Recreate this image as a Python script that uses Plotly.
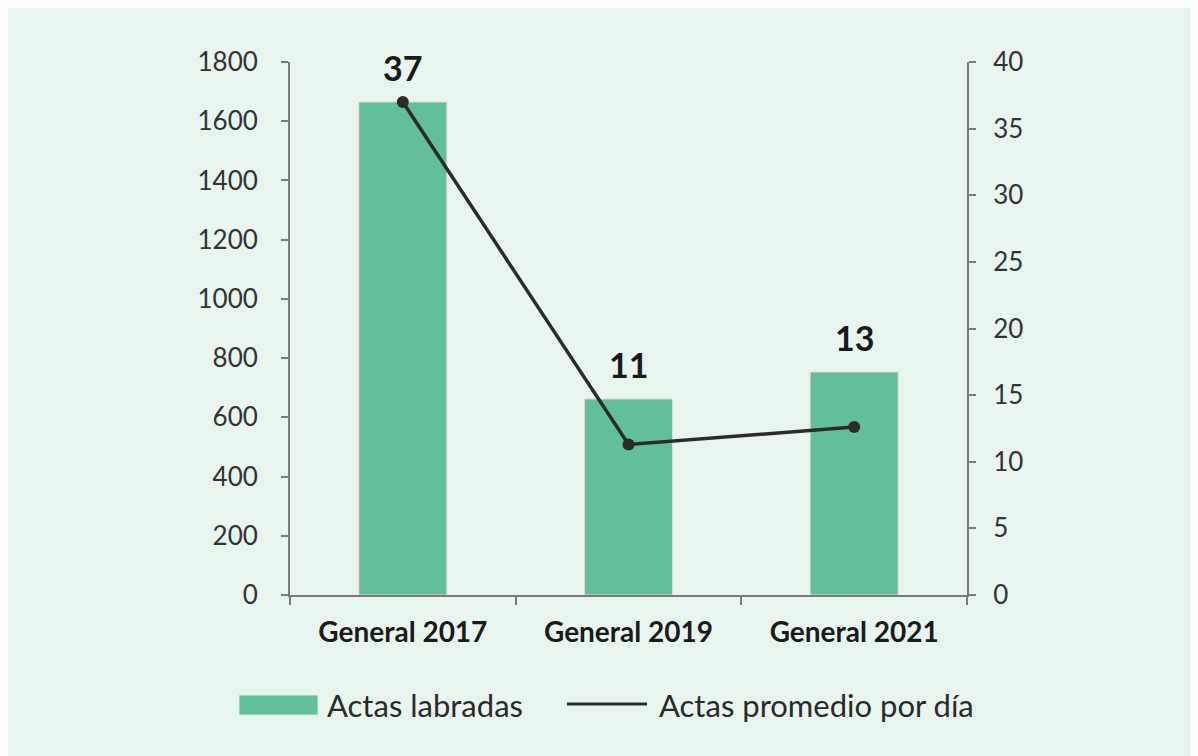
import plotly.graph_objects as go

categories = ["General 2017", "General 2019", "General 2021"]
actas_labradas = [1665, 662, 753]
actas_promedio = [37, 11.3, 12.6]
left_ticks = [0, 200, 400, 600, 800, 1000, 1200, 1400, 1600, 1800]
right_ticks = [0, 5, 10, 15, 20, 25, 30, 35, 40]
legend_labels = ["Actas labradas", "Actas promedio por día"]

BG = "#e8f5ee"
BAR = "#62bf9a"
LINE = "#2b2b2b"
AXIS = "#7a7a7a"
FONT = "Lato, 'Noto Sans', sans-serif"

W, H = 1188, 748
L, T = 282, 54
R = W - 959
B = H - 587
pw, ph = W - L - R, H - T - B


def px(X):
    return (X - 290) / pw


def py(Y):
    return (595 - Y) / ph


fig = go.Figure()
fig.add_trace(go.Bar(
    x=categories, y=actas_labradas, name=legend_labels[0],
    marker=dict(color=BAR, line=dict(color="#ead6d6", width=1)),
    hoverinfo="skip", showlegend=False,
))
fig.add_trace(go.Scatter(
    x=categories, y=actas_promedio, name=legend_labels[1],
    yaxis="y2", mode="lines+markers", showlegend=False,
    line=dict(color=LINE, width=3.5), marker=dict(color=LINE, size=12),
))

for c, v, p in zip(categories, actas_labradas, actas_promedio):
    fig.add_annotation(x=c, y=v, xref="x", yref="y", text=f"<b>{p:.0f}</b>",
                       showarrow=False, yanchor="bottom", yshift=12,
                       font=dict(family=FONT, size=34, color="#1a1a1a"))

# legend (manual)
fig.add_shape(type="rect", xref="paper", yref="paper", x0=px(239), x1=px(318),
              y0=py(715), y1=py(695), fillcolor=BAR, line=dict(color="#d8ece0", width=1))
fig.add_annotation(xref="paper", yref="paper", x=px(325), y=py(705), xanchor="left",
                   yanchor="middle", text=legend_labels[0], showarrow=False,
                   font=dict(family=FONT, size=31, color="#2a2a2a"))
fig.add_shape(type="line", xref="paper", yref="paper", x0=px(567), x1=px(647),
              y0=py(704), y1=py(704), line=dict(color=LINE, width=3))
fig.add_annotation(xref="paper", yref="paper", x=px(657), y=py(705), xanchor="left",
                   yanchor="middle", text=legend_labels[1], showarrow=False,
                   font=dict(family=FONT, size=31, color="#2a2a2a"))

fig.update_layout(
    width=W, height=H,
    margin=dict(l=L, r=R, t=T, b=B, pad=0),
    paper_bgcolor=BG, plot_bgcolor="rgba(0,0,0,0)",
    font=dict(family=FONT, color="#333333"),
    bargap=0.61,
    showlegend=False,
    xaxis=dict(showline=True, linecolor=AXIS, linewidth=2, ticks="outside",
               tickson="boundaries", ticklen=8, tickcolor=AXIS, tickwidth=2,
               tickfont=dict(family=FONT, size=28, color="#1a1a1a", weight="bold"),
               ticklabelstandoff=11, showgrid=False, zeroline=False),
    yaxis=dict(range=[0, 1800], tickvals=left_ticks, showline=True, linecolor=AXIS,
               linewidth=2, ticks="outside", ticklen=7, tickcolor=AXIS, tickwidth=2,
               tickfont=dict(family=FONT, size=26, color="#333333"),
               ticklabelstandoff=18, showgrid=False, zeroline=False),
    yaxis2=dict(range=[0, 40], tickvals=right_ticks, overlaying="y", side="right",
                showline=True, linecolor=AXIS, linewidth=2, ticks="outside",
                ticklen=7, tickcolor=AXIS, tickwidth=2,
                tickfont=dict(family=FONT, size=26, color="#333333"),
                ticklabelstandoff=12, showgrid=False, zeroline=False),
)

fig.write_html("out.html")
